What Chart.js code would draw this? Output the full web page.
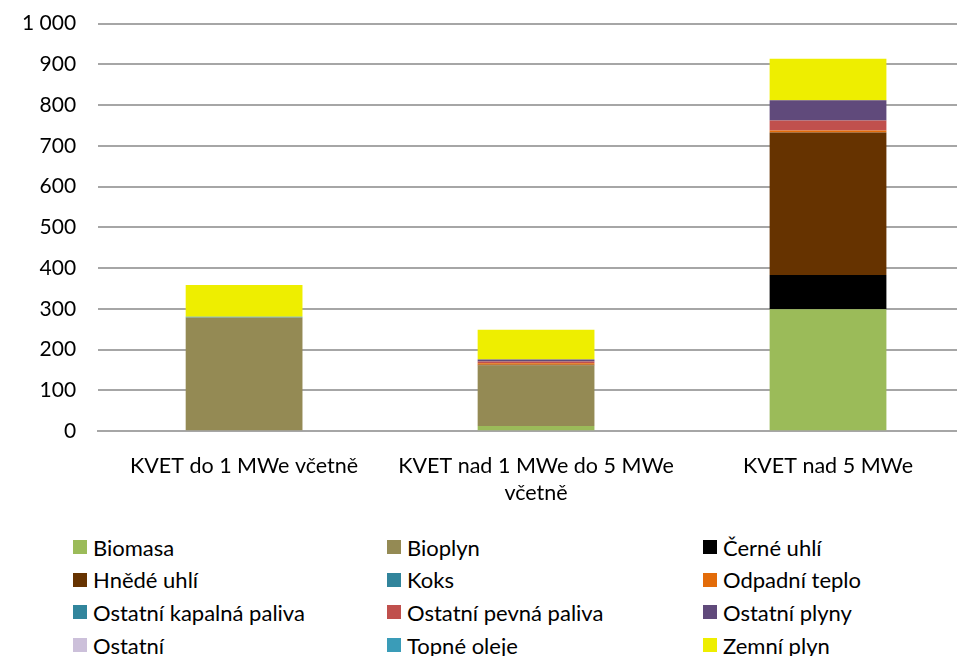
<!DOCTYPE html>
<html>
<head>
<meta charset="utf-8">
<script src="https://cdn.jsdelivr.net/npm/chart.js@4/dist/chart.umd.min.js"></script>
<style>
  body { margin: 0; background: #fff; font-family: Lato, sans-serif; overflow: hidden; }
  #wrap { position: relative; width: 976px; height: 530px; margin-top: -11px; }
  #legend {
    display: grid;
    grid-template-columns: 314px 316px 250px;
    margin-left: 73px;
    row-gap: 10.7px;
    margin-top: 17px;
    font-size: 22px;
    color: #000;
  }
  .item { display: flex; align-items: center; height: 22px; white-space: nowrap; }
  .box { width: 14px; height: 14px; margin-right: 6px; flex: none; }
</style>
</head>
<body>
<div id="wrap"><canvas id="chart"></canvas></div>
<div id="legend"></div>
<script>
// Data
const categories = [
  'KVET do 1 MWe včetně',
  ['KVET nad 1 MWe do 5 MWe', 'včetně'],
  'KVET nad 5 MWe'
];
const fuels = ['Biomasa', 'Bioplyn', 'Černé uhlí', 'Hnědé uhlí', 'Koks', 'Odpadní teplo',
  'Ostatní kapalná paliva', 'Ostatní pevná paliva', 'Ostatní plyny', 'Ostatní', 'Topné oleje', 'Zemní plyn'];
const fuelColors = ['#9BBB59', '#948A54', '#000000', '#663300', '#31849B', '#E36C09',
  '#31859C', '#C0504D', '#604A7B', '#CCC0DA', '#3A9CB8', '#EEEE00'];

const biomasa = [0, 13, 299];
const bioplyn = [279, 148, 0];
const cerneUhli = [0, 0, 84];
const hnedeUhli = [0, 2, 350];
const koks = [0, 0, 0];
const odpadniTeplo = [0, 4, 5];
const ostatniKapalna = [0, 0, 0];
const ostatniPevna = [0, 4, 24];
const ostatniPlyny = [0, 5, 50];
const ostatni = [0, 0, 0];
const topneOleje = [2, 0, 0];
const zemniPlyn = [78, 73, 102];

const yTicks = [0, 100, 200, 300, 400, 500, 600, 700, 800, 900, 1000];

const seriesValues = [biomasa, bioplyn, cerneUhli, hnedeUhli, koks, odpadniTeplo,
  ostatniKapalna, ostatniPevna, ostatniPlyny, ostatni, topneOleje, zemniPlyn];

const datasets = fuels.map((name, i) => ({
  label: name,
  data: seriesValues[i],
  backgroundColor: fuelColors[i],
  barPercentage: 0.40,
  categoryPercentage: 1.0
}));

const ctx = document.getElementById('chart').getContext('2d');
const chart = new Chart(ctx, {
  type: 'bar',
  data: { labels: categories, datasets },
  options: {
    responsive: true,
    maintainAspectRatio: false,
    animation: false,
    layout: { padding: { top: 0, right: 2, left: 0, bottom: 0 } },
    plugins: { legend: { display: false }, tooltip: { enabled: false } },
    scales: {
      x: {
        stacked: true,
        grid: { display: false },
        border: { color: '#A6A6A6', width: 2 },
        ticks: {
          color: '#000',
          font: { family: 'Lato', size: 21.5, lineHeight: 1.25 },
          padding: 13,
          maxRotation: 0
        }
      },
      y: {
        stacked: true,
        min: 0,
        max: 1000,
        afterBuildTicks: axis => { axis.ticks = yTicks.map(v => ({ value: v })); },
        grid: { color: '#A6A6A6', lineWidth: 2, drawTicks: false },
        border: { display: false },
        ticks: {
          color: '#000',
          font: { family: 'Lato', size: 21 },
          padding: 22,
          callback: v => String(v).replace(/\B(?=(\d{3})+(?!\d))/g, ' ')
        }
      }
    }
  }
});

// Legend in three columns
const legend = document.getElementById('legend');
fuels.forEach((name, i) => {
  legend.innerHTML += `<div class="item"><span class="box" style="background:${fuelColors[i]}"></span>${name}</div>`;
});
</script>
</body>
</html>
